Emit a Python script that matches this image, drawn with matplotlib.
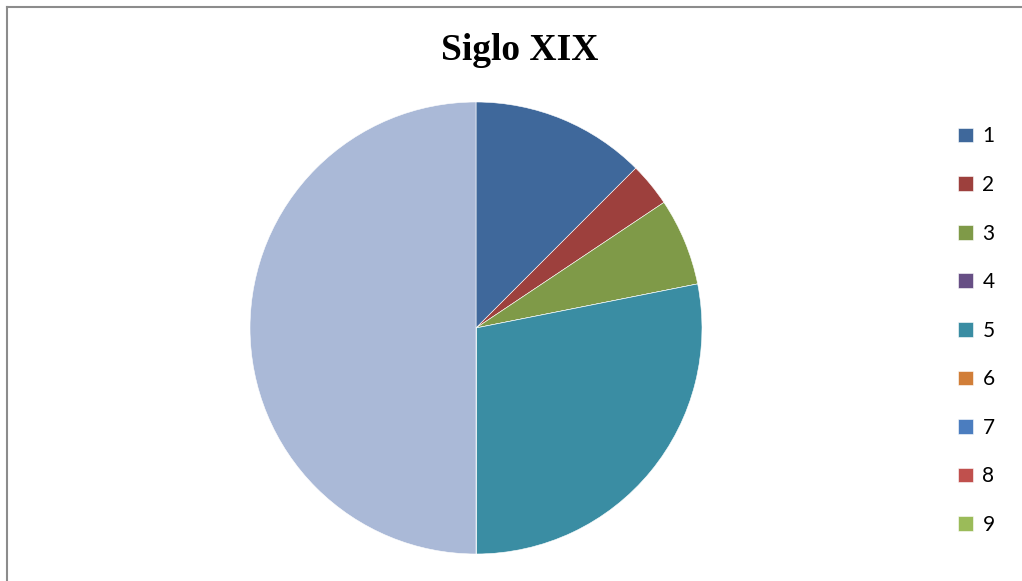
import matplotlib.pyplot as plt
from matplotlib.lines import Line2D

# data (10th category is not shown in the legend)
categories = ['1', '2', '3', '4', '5', '6', '7', '8', '9', '10']
values = [4, 1, 2, 0, 9, 0, 0, 0, 0, 16]
colors = ['#3F689B', '#9D403D', '#7F9A48', '#674F85', '#3A8DA3',
          '#D17E38', '#4B7DBF', '#C0504D', '#9BBB59', '#AAB9D7']

W, H = 1022, 581
fig = plt.figure(figsize=(W / 100, H / 100), dpi=100)

# chart frame, only left and top edges are visible
fx, fy = 6.5 / W, 1 - 6.5 / H
fig.lines.append(Line2D([fx, fx], [0, fy], transform=fig.transFigure, color='#8C8C8C', linewidth=1.5))
fig.lines.append(Line2D([fx, 1], [fy, fy], transform=fig.transFigure, color='#8C8C8C', linewidth=1.5))

cx, cy, r = 476, 328, 226
ax = fig.add_axes([(cx - r) / W, (H - cy - r) / H, 2 * r / W, 2 * r / H])
wedges, _ = ax.pie(values, colors=colors, startangle=90, counterclock=False, radius=1,
                   wedgeprops=dict(edgecolor='white', linewidth=0.4))
ax.set_xlim(-1, 1)
ax.set_ylim(-1, 1)
ax.set_aspect('equal')
ax.axis('off')

fig.text(520 / W, 1 - 50 / H, 'Siglo XIX', ha='center', va='center',
         fontsize=27, fontweight='bold', family='Liberation Serif')

leg = fig.legend(wedges[:9], categories[:9], loc='upper left',
                 bbox_to_anchor=(948 / W, 1 - 116 / H), frameon=False,
                 prop={'family': 'Lato', 'size': 15}, handlelength=0.7, handleheight=0.7,
                 handletextpad=0.45, labelspacing=1.37, borderpad=0)

fig.savefig('out.png', dpi=100)
